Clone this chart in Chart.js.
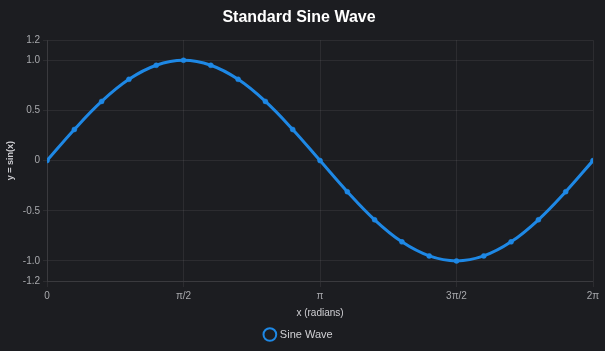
<!DOCTYPE html>
<html>
<head>
<meta charset="utf-8">
<script src="https://cdn.jsdelivr.net/npm/chart.js@4.4.0/dist/chart.umd.min.js"></script>
<style>
  html, body { margin: 0; padding: 0; background: #1c1d21; }
  #wrap { width: 605px; height: 351px; position: relative; }
</style>
</head>
<body>
<div id="wrap"><canvas id="mycanvas"></canvas></div>
<script>
// x in radians, 21 samples from 0 to 2π
const xValues = [0, 0.3142, 0.6283, 0.9425, 1.2566, 1.5708, 1.8850, 2.1991, 2.5133, 2.8274,
  3.1416, 3.4558, 3.7699, 4.0841, 4.3982, 4.7124, 5.0265, 5.3407, 5.6549, 5.9690, 6.2832];
const yValues = [0, 0.31, 0.59, 0.81, 0.95, 1.0, 0.95, 0.81, 0.59, 0.31,
  0, -0.31, -0.59, -0.81, -0.95, -1.0, -0.95, -0.81, -0.59, -0.31, 0];

const xTickValues = [0, 1.5708, 3.1416, 4.7124, 6.2832];
const xTickLabels = ['0', 'π/2', 'π', '3π/2', '2π'];
const yTickValues = [-1.2, -1.0, -0.5, 0, 0.5, 1.0, 1.2];
const yTickLabels = ['-1.2', '-1.0', '-0.5', '0', '0.5', '1.0', '1.2'];

const points = [];
for (var i in xValues) {
  points.push({ x: xValues[i], y: yValues[i] });
}

const bgPlugin = {
  id: 'bg',
  beforeDraw: function(chart) {
    const c = chart.ctx;
    c.save();
    c.fillStyle = '#1c1d21';
    c.fillRect(0, 0, chart.width, chart.height);
    c.restore();
  }
};

Chart.defaults.font.family = '"Liberation Sans", Arial, sans-serif';
Chart.defaults.color = '#a8a9ad';

var ctx = document.getElementById('mycanvas');

new Chart(ctx, {
  type: 'line',
  data: {
    datasets: [{
      label: 'Sine Wave',
      data: points,
      borderColor: '#1e88e5',
      backgroundColor: 'rgba(30,136,229,0.08)',
      pointBackgroundColor: '#1e88e5',
      pointBorderColor: '#1e88e5',
      pointRadius: 2.5,
      pointBorderWidth: 0.5,
      borderWidth: 3,
      tension: 0.4,
      fill: false
    }]
  },
  options: {
    responsive: true,
    maintainAspectRatio: false,
    animation: false,
    layout: { padding: { left: 5, right: 12, top: 4, bottom: 1 } },
    plugins: {
      title: {
        display: true,
        text: 'Standard Sine Wave',
        color: '#ffffff',
        font: { size: 16, weight: 'bold' },
        padding: { top: 4, bottom: 13 }
      },
      legend: {
        position: 'bottom',
        labels: {
          usePointStyle: true,
          pointStyle: 'circle',
          color: '#d0d0d4',
          font: { size: 11 },
          boxWidth: 9,
          boxHeight: 9,
          padding: 10,
          generateLabels: function(chart) {
            var items = Chart.defaults.plugins.legend.labels.generateLabels(chart);
            items.forEach(function(it) {
              it.fillStyle = 'rgba(0,0,0,0)';
              it.strokeStyle = '#1e88e5';
              it.lineWidth = 2;
            });
            return items;
          }
        }
      }
    },
    scales: {
      x: {
        type: 'linear',
        min: 0,
        max: 6.2832,
        afterBuildTicks: function(axis) {
          axis.ticks = xTickValues.map(function(v) { return { value: v }; });
        },
        ticks: {
          font: { size: 10 },
          maxRotation: 0,
          callback: function(value) {
            var idx = xTickValues.indexOf(value);
            return idx >= 0 ? xTickLabels[idx] : '';
          }
        },
        grid: { color: 'rgba(255,255,255,0.07)', tickLength: 6 },
        border: { color: 'rgba(255,255,255,0.07)' },
        title: {
          display: true,
          text: 'x (radians)',
          color: '#d0d0d4',
          font: { size: 10 },
          padding: { top: 2, bottom: 0 }
        }
      },
      y: {
        min: -1.2,
        max: 1.2,
        afterBuildTicks: function(axis) {
          axis.ticks = yTickValues.map(function(v) { return { value: v }; });
        },
        ticks: {
          font: { size: 10 },
          callback: function(value) {
            var idx = yTickValues.indexOf(value);
            return idx >= 0 ? yTickLabels[idx] : '';
          }
        },
        grid: { color: 'rgba(255,255,255,0.07)', tickLength: 4 },
        border: { color: 'rgba(255,255,255,0.07)' },
        title: {
          display: true,
          text: 'y = sin(x)',
          color: '#d0d0d4',
          font: { size: 9, weight: 'bold' },
          padding: { top: 0, bottom: 4 }
        }
      }
    }
  },
  plugins: [bgPlugin]
});
</script>
</body>
</html>
